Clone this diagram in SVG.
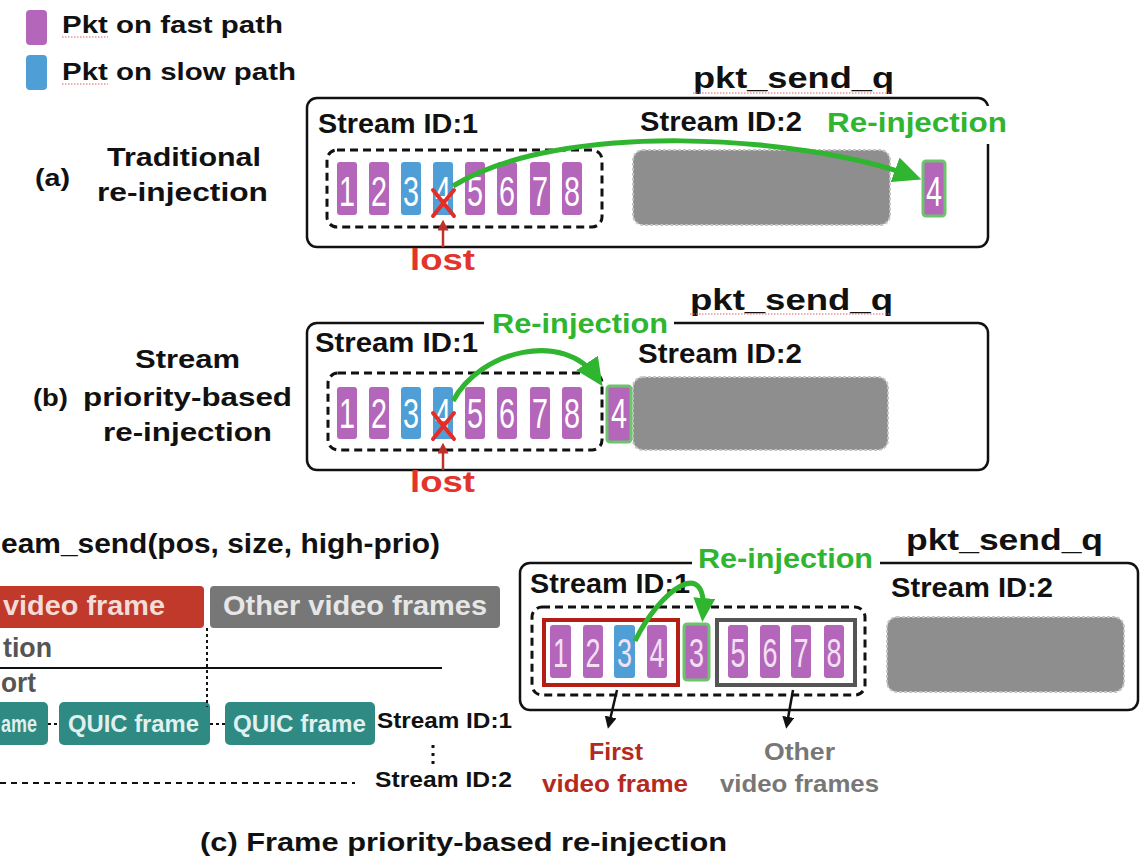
<svg xmlns="http://www.w3.org/2000/svg" width="1143" height="858" viewBox="0 0 1143 858">
<defs>
<style>
text{font-family:"Liberation Sans",Arial,sans-serif;font-weight:bold;fill:#111;}
.t24{font-size:24px}.t26{font-size:26px}.t28{font-size:28px}.t30{font-size:30px}.t22{font-size:22px}
.green{fill:#2fb52f}
.lost{fill:#e3342c;font-size:30px}
.dig{font-weight:normal;fill:#fff;font-size:42px;text-anchor:middle}
.digc{font-weight:normal;fill:#f3e0f3;font-size:40px;text-anchor:middle}
.fast{fill:#b466ba}
.slow{fill:#4f9fd6}
.reinj{fill:#b466ba;stroke:#6cc46c;stroke-width:3}
.panel{fill:none;stroke:#111;stroke-width:2.5}
.dash{fill:none;stroke:#111;stroke-width:3;stroke-dasharray:8 5}
.s2{fill:#8e8e8e;stroke:#c4c4c4;stroke-width:2;stroke-dasharray:3 2}
.garrow{fill:none;stroke:#2fb52f;stroke-width:5}
.xmark{stroke:#e52d27;stroke-width:4;stroke-linecap:round}
.lostarr{stroke:#c0302a;stroke-width:2.5}
.squig{stroke:#e06060;stroke-width:1.2;stroke-dasharray:1.5 1.5}
.teal{fill:#2e8a83}
.qt{fill:#dff0ee;font-size:24px}
.dot{stroke:#111;stroke-width:2;stroke-dasharray:3 3;fill:none}
</style>
<marker id="gh" viewBox="0 0 28 26" markerWidth="28" markerHeight="26" refX="18" refY="13" orient="auto" markerUnits="userSpaceOnUse"><path d="M0,0 L28,13 L0,26 z" fill="#2fb52f"/></marker>
<marker id="ghs" viewBox="0 0 24 22" markerWidth="24" markerHeight="22" refX="16" refY="11" orient="auto" markerUnits="userSpaceOnUse"><path d="M0,0 L24,11 L0,22 z" fill="#2fb52f"/></marker>
<marker id="rh" viewBox="0 0 10 10" markerWidth="11" markerHeight="11" refX="6" refY="5" orient="auto" markerUnits="userSpaceOnUse"><path d="M0,0 L10,5 L0,10 z" fill="#c0302a"/></marker>
<marker id="bh" viewBox="0 0 10 10" markerWidth="12" markerHeight="12" refX="6" refY="5" orient="auto" markerUnits="userSpaceOnUse"><path d="M0,0 L10,5 L0,10 z" fill="#111"/></marker>
</defs>
<rect width="1143" height="858" fill="#fff"/>

<g id="legend">
<rect class="fast" x="26" y="10" width="21" height="35" rx="4"/>
<text class="t24" x="62" y="33" textLength="221" lengthAdjust="spacingAndGlyphs">Pkt on fast path</text>
<line class="squig" x1="62" y1="37" x2="108" y2="37"/>
<rect class="slow" x="26" y="55" width="21" height="35" rx="4"/>
<text class="t24" x="62" y="80" textLength="234" lengthAdjust="spacingAndGlyphs">Pkt on slow path</text>
<line class="squig" x1="62" y1="84" x2="108" y2="84"/>
</g>

<g id="label-a">
<text class="t24" x="35" y="186" textLength="35" lengthAdjust="spacingAndGlyphs">(a)</text>
<text class="t26" x="107" y="166" textLength="154" lengthAdjust="spacingAndGlyphs">Traditional</text>
<text class="t26" x="97" y="201" textLength="171" lengthAdjust="spacingAndGlyphs">re-injection</text>
</g>

<g id="label-b">
<text class="t26" x="135" y="368" textLength="105" lengthAdjust="spacingAndGlyphs">Stream</text>
<text class="t24" x="33" y="406" textLength="35" lengthAdjust="spacingAndGlyphs">(b)</text>
<text class="t26" x="83" y="406" textLength="209" lengthAdjust="spacingAndGlyphs">priority-based</text>
<text class="t26" x="103" y="441" textLength="169" lengthAdjust="spacingAndGlyphs">re-injection</text>
</g>

<g id="panel-a">
<rect class="panel" x="307" y="98" width="681" height="149" rx="10"/>
<text class="t30" x="693" y="88" textLength="201" lengthAdjust="spacingAndGlyphs">pkt_send_q</text>
<line class="squig" x1="693" y1="93" x2="893" y2="93"/>
<text class="t28" x="318" y="133" textLength="160" lengthAdjust="spacingAndGlyphs">Stream ID:1</text>
<text class="t28" x="640" y="131" textLength="162" lengthAdjust="spacingAndGlyphs">Stream ID:2</text>
<rect x="820" y="106" width="192" height="38" fill="#fff"/>
<text class="t28 green" x="827" y="132" textLength="180" lengthAdjust="spacingAndGlyphs">Re-injection</text>
<rect class="dash" x="327" y="150" width="275" height="77" rx="10"/>
<rect class="s2" x="633" y="150" width="257" height="75" rx="10"/>
<rect class="fast" x="337" y="162" width="20" height="53" rx="3"/>
<rect class="fast" x="369" y="162" width="20" height="53" rx="3"/>
<rect class="slow" x="401" y="162" width="20" height="53" rx="3"/>
<rect class="slow" x="433" y="162" width="20" height="53" rx="3"/>
<rect class="fast" x="465" y="162" width="20" height="53" rx="3"/>
<rect class="fast" x="497" y="162" width="20" height="53" rx="3"/>
<rect class="fast" x="530" y="162" width="20" height="53" rx="3"/>
<rect class="fast" x="562" y="162" width="20" height="53" rx="3"/>
<text class="dig" x="347" y="206" textLength="16" lengthAdjust="spacingAndGlyphs">1</text>
<text class="dig" x="379" y="206" textLength="16" lengthAdjust="spacingAndGlyphs">2</text>
<text class="dig" x="411" y="206" textLength="16" lengthAdjust="spacingAndGlyphs">3</text>
<text class="dig" x="443" y="206" textLength="16" lengthAdjust="spacingAndGlyphs">4</text>
<text class="dig" x="475" y="206" textLength="16" lengthAdjust="spacingAndGlyphs">5</text>
<text class="dig" x="507" y="206" textLength="16" lengthAdjust="spacingAndGlyphs">6</text>
<text class="dig" x="540" y="206" textLength="16" lengthAdjust="spacingAndGlyphs">7</text>
<text class="dig" x="572" y="206" textLength="16" lengthAdjust="spacingAndGlyphs">8</text>
<line class="xmark" x1="433" y1="190" x2="454" y2="216"/>
<line class="xmark" x1="454" y1="190" x2="433" y2="216"/>
<rect class="reinj" x="923" y="161" width="22" height="55" rx="3"/>
<text class="dig" x="934" y="206" textLength="16" lengthAdjust="spacingAndGlyphs">4</text>
<text class="lost" x="410" y="270" textLength="65" lengthAdjust="spacingAndGlyphs">lost</text>
</g>

<g id="panel-b">
<rect class="panel" x="307" y="323" width="681" height="147" rx="10"/>
<rect x="484" y="305" width="190" height="36" fill="#fff"/>
<text class="t28 green" x="492" y="333" textLength="176" lengthAdjust="spacingAndGlyphs">Re-injection</text>
<text class="t30" x="690" y="310" textLength="203" lengthAdjust="spacingAndGlyphs">pkt_send_q</text>
<line class="squig" x1="690" y1="314" x2="890" y2="314"/>
<text class="t28" x="315" y="352" textLength="163" lengthAdjust="spacingAndGlyphs">Stream ID:1</text>
<text class="t28" x="638" y="363" textLength="164" lengthAdjust="spacingAndGlyphs">Stream ID:2</text>
<rect class="dash" x="328" y="373" width="274" height="77" rx="10"/>
<rect class="s2" x="633" y="377" width="255" height="73" rx="10"/>
<rect class="fast" x="337" y="387" width="20" height="52" rx="3"/>
<rect class="fast" x="369" y="387" width="20" height="52" rx="3"/>
<rect class="slow" x="401" y="387" width="20" height="52" rx="3"/>
<rect class="slow" x="433" y="387" width="20" height="52" rx="3"/>
<rect class="fast" x="465" y="387" width="20" height="52" rx="3"/>
<rect class="fast" x="497" y="387" width="20" height="52" rx="3"/>
<rect class="fast" x="530" y="387" width="20" height="52" rx="3"/>
<rect class="fast" x="562" y="387" width="20" height="52" rx="3"/>
<text class="dig" x="347" y="428" textLength="16" lengthAdjust="spacingAndGlyphs">1</text>
<text class="dig" x="379" y="428" textLength="16" lengthAdjust="spacingAndGlyphs">2</text>
<text class="dig" x="411" y="428" textLength="16" lengthAdjust="spacingAndGlyphs">3</text>
<text class="dig" x="443" y="428" textLength="16" lengthAdjust="spacingAndGlyphs">4</text>
<text class="dig" x="475" y="428" textLength="16" lengthAdjust="spacingAndGlyphs">5</text>
<text class="dig" x="507" y="428" textLength="16" lengthAdjust="spacingAndGlyphs">6</text>
<text class="dig" x="540" y="428" textLength="16" lengthAdjust="spacingAndGlyphs">7</text>
<text class="dig" x="572" y="428" textLength="16" lengthAdjust="spacingAndGlyphs">8</text>
<line class="xmark" x1="433" y1="413" x2="454" y2="439"/>
<line class="xmark" x1="454" y1="413" x2="433" y2="439"/>
<rect class="reinj" x="607" y="386" width="24" height="56" rx="3"/>
<text class="dig" x="619" y="428" textLength="16" lengthAdjust="spacingAndGlyphs">4</text>
<text class="lost" x="410" y="492" textLength="65" lengthAdjust="spacingAndGlyphs">lost</text>
</g>

<g id="stack-c">
<text class="t28" x="1" y="553" textLength="439" lengthAdjust="spacingAndGlyphs">eam_send(pos, size, high-prio)</text>
<rect x="-6" y="586" width="210" height="42" rx="4" fill="#c0392b"/>
<text class="t28" x="3" y="615" textLength="162" lengthAdjust="spacingAndGlyphs" style="fill:#f3dcd8">video frame</text>
<rect x="210" y="586" width="290" height="42" rx="4" fill="#777"/>
<text class="t28" x="223" y="615" textLength="264" lengthAdjust="spacingAndGlyphs" style="fill:#e6e6e6">Other video frames</text>
<text class="t28" x="3" y="657" textLength="49" lengthAdjust="spacingAndGlyphs" style="fill:#555">tion</text>
<line x1="0" y1="668" x2="442" y2="668" stroke="#111" stroke-width="2"/>
<text class="t28" x="1" y="692" textLength="35" lengthAdjust="spacingAndGlyphs" style="fill:#555">ort</text>
<rect class="teal" x="-6" y="702" width="54" height="43" rx="5"/>
<text class="qt" x="1" y="732" textLength="36" lengthAdjust="spacingAndGlyphs">ame</text>
<rect class="teal" x="59" y="702" width="151" height="43" rx="5"/>
<text class="qt" x="68" y="732" textLength="131" lengthAdjust="spacingAndGlyphs">QUIC frame</text>
<rect class="teal" x="225" y="702" width="150" height="43" rx="5"/>
<text class="qt" x="233" y="732" textLength="133" lengthAdjust="spacingAndGlyphs">QUIC frame</text>
<text class="t22" x="377" y="728" textLength="135" lengthAdjust="spacingAndGlyphs">Stream ID:1</text>
<text class="t22" x="375" y="787" textLength="137" lengthAdjust="spacingAndGlyphs">Stream ID:2</text>
</g>

<g id="panel-c">
<rect class="panel" x="520" y="563" width="618" height="147" rx="10"/>
<rect x="692" y="545" width="188" height="34" fill="#fff"/>
<text class="t28 green" x="698" y="568" textLength="175" lengthAdjust="spacingAndGlyphs">Re-injection</text>
<text class="t30" x="906" y="550" textLength="197" lengthAdjust="spacingAndGlyphs">pkt_send_q</text>
<text class="t28" x="530" y="593" textLength="160" lengthAdjust="spacingAndGlyphs">Stream ID:1</text>
<text class="t28" x="891" y="597" textLength="162" lengthAdjust="spacingAndGlyphs">Stream ID:2</text>
<rect class="dash" x="532" y="607" width="333" height="88" rx="10"/>
<rect class="s2" x="887" y="617" width="237" height="75" rx="10"/>
<rect class="fast" x="550" y="625" width="21" height="53" rx="3"/>
<rect class="fast" x="583" y="625" width="20" height="53" rx="3"/>
<rect class="slow" x="614" y="625" width="21" height="53" rx="3"/>
<rect class="fast" x="647" y="625" width="20" height="53" rx="3"/>
<rect x="544" y="620" width="134" height="65" fill="none" stroke="#b51e14" stroke-width="4"/>
<rect class="reinj" x="684" y="624" width="25" height="56" rx="3"/>
<rect class="fast" x="728" y="625" width="20" height="53" rx="3"/>
<rect class="fast" x="760" y="625" width="20" height="53" rx="3"/>
<rect class="fast" x="791" y="625" width="20" height="53" rx="3"/>
<rect class="fast" x="824" y="625" width="20" height="53" rx="3"/>
<rect x="717" y="620" width="138" height="65" fill="none" stroke="#555" stroke-width="4"/>
<text class="digc" x="560.5" y="667" textLength="15" lengthAdjust="spacingAndGlyphs">1</text>
<text class="digc" x="593" y="667" textLength="15" lengthAdjust="spacingAndGlyphs">2</text>
<text class="digc" x="624.5" y="667" textLength="15" lengthAdjust="spacingAndGlyphs">3</text>
<text class="digc" x="657" y="667" textLength="15" lengthAdjust="spacingAndGlyphs">4</text>
<text class="digc" x="696.5" y="667" textLength="15" lengthAdjust="spacingAndGlyphs">3</text>
<text class="digc" x="738" y="667" textLength="15" lengthAdjust="spacingAndGlyphs">5</text>
<text class="digc" x="770" y="667" textLength="15" lengthAdjust="spacingAndGlyphs">6</text>
<text class="digc" x="801" y="667" textLength="15" lengthAdjust="spacingAndGlyphs">7</text>
<text class="digc" x="834" y="667" textLength="15" lengthAdjust="spacingAndGlyphs">8</text>
<text class="t24" x="589" y="760" textLength="54" lengthAdjust="spacingAndGlyphs" style="fill:#b52a1f">First</text>
<text class="t24" x="542" y="792" textLength="146" lengthAdjust="spacingAndGlyphs" style="fill:#b52a1f">video frame</text>
<text class="t24" x="764" y="760" textLength="71" lengthAdjust="spacingAndGlyphs" style="fill:#777">Other</text>
<text class="t24" x="720" y="792" textLength="159" lengthAdjust="spacingAndGlyphs" style="fill:#777">video frames</text>
</g>

<g id="caption">
<text class="t26" x="200" y="851" textLength="527" lengthAdjust="spacingAndGlyphs">(c) Frame priority-based re-injection</text>
</g>

<g id="connectors">
<path class="garrow" d="M453,186 C560,120 800,135 912,176" marker-end="url(#gh)"/>
<path class="garrow" d="M453,401 C480,350 565,330 597,378" marker-end="url(#gh)"/>
<path class="garrow" d="M635,641 C660,590 708,555 703,614" marker-end="url(#ghs)"/>
<line class="lostarr" x1="443" y1="247" x2="443" y2="224" marker-end="url(#rh)"/>
<line class="lostarr" x1="443" y1="470" x2="443" y2="447" marker-end="url(#rh)"/>
<line x1="617" y1="690" x2="609" y2="724" stroke="#111" stroke-width="2.5" marker-end="url(#bh)"/>
<line x1="793" y1="690" x2="787" y2="724" stroke="#111" stroke-width="2.5" marker-end="url(#bh)"/>
<line class="dot" x1="207" y1="628" x2="207" y2="707"/>
<line class="dot" x1="48" y1="724" x2="59" y2="724"/>
<line class="dot" x1="210" y1="724" x2="225" y2="724"/>
<line x1="433" y1="745" x2="433" y2="765" stroke="#111" stroke-width="3" stroke-dasharray="3 5"/>
<line x1="0" y1="783" x2="355" y2="783" stroke="#111" stroke-width="2" stroke-dasharray="6 5"/>
</g>
</svg>
